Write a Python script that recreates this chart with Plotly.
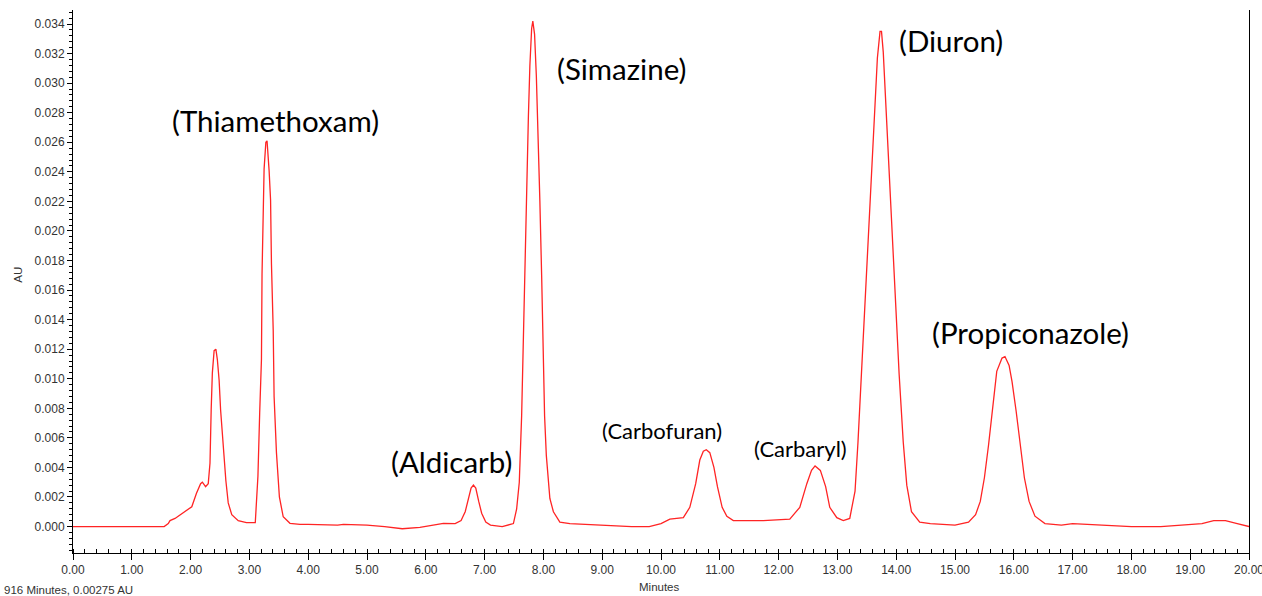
import plotly.graph_objects as go

# Retention time (minutes) and detector response (AU) of the chromatogram trace
minutes = [
    0.00, 1.00, 1.55, 1.62, 1.65, 1.735, 1.905, 1.96, 2.02, 2.10, 2.17, 2.20, 2.255, 2.30,
    2.33, 2.35, 2.37, 2.40, 2.43, 2.455, 2.485, 2.51, 2.555, 2.60, 2.64, 2.70, 2.81, 2.95,
    3.10, 3.12, 3.145, 3.175, 3.205, 3.215, 3.235, 3.25, 3.28, 3.30, 3.335, 3.36, 3.375,
    3.405, 3.42, 3.46, 3.51, 3.575, 3.69, 3.86, 4.00, 4.50, 4.60, 5.00, 5.30, 5.60, 5.90,
    6.10, 6.30, 6.50, 6.60, 6.67, 6.72, 6.77, 6.81, 6.85, 6.90, 6.95, 7.02, 7.10, 7.30,
    7.49, 7.545, 7.59, 7.63, 7.66, 7.69, 7.715, 7.745, 7.77, 7.80, 7.82, 7.85, 7.88, 7.91,
    7.94, 7.97, 7.99, 8.02, 8.05, 8.11, 8.17, 8.28, 8.45, 9.00, 9.50, 9.80, 10.00, 10.15,
    10.38, 10.49, 10.59, 10.66, 10.72, 10.77, 10.83, 10.90, 10.96, 11.04, 11.12, 11.23,
    11.74, 12.19, 12.36, 12.48, 12.56, 12.62, 12.71, 12.80, 12.87, 12.99, 13.10, 13.21,
    13.30, 13.35, 13.41, 13.47, 13.52, 13.58, 13.64, 13.68, 13.725, 13.75, 13.78, 13.827,
    13.88, 13.94, 13.995, 14.05, 14.12, 14.18, 14.26, 14.40, 14.58, 15.00, 15.23, 15.35,
    15.43, 15.50, 15.57, 15.64, 15.71, 15.80, 15.85, 15.92, 15.97, 16.04, 16.11, 16.18,
    16.26, 16.36, 16.53, 16.81, 17.00, 17.50, 18.00, 18.50, 18.90, 19.20, 19.40, 19.60,
    19.80, 20.00,
]
absorbance = [
    0.0000, 0.0000, 0.0000, 0.0002, 0.0004, 0.00055, 0.0010, 0.00118, 0.00134, 0.00225,
    0.0029, 0.0030, 0.0027, 0.0029, 0.0043, 0.0079, 0.0104, 0.0119, 0.0120, 0.0113, 0.0099,
    0.0079, 0.0054, 0.0031, 0.0016, 0.0008, 0.0004, 0.00026, 0.00026, 0.0016, 0.0034,
    0.0077, 0.0113, 0.0171, 0.0205, 0.0242, 0.0260, 0.0261, 0.0241, 0.0221, 0.0178, 0.0133,
    0.0088, 0.0050, 0.0020, 0.00066, 0.00022, 0.00015, 0.00015, 0.0001, 0.00015, 0.0001,
    0.0000, -0.00015, -0.00005, 0.0001, 0.00022, 0.0002, 0.0004, 0.0010, 0.0019, 0.0026,
    0.0028, 0.0026, 0.0017, 0.0009, 0.0003, 0.0001, 0.0000, 0.0002, 0.0012, 0.0030, 0.0075,
    0.0132, 0.0188, 0.0233, 0.0278, 0.0312, 0.0337, 0.0342, 0.0333, 0.0305, 0.0267, 0.0220,
    0.0170, 0.0121, 0.0075, 0.0048, 0.0019, 0.0010, 0.0003, 0.0002, 0.0001, 0.0000, 0.0000,
    0.0002, 0.0005, 0.0006, 0.0013, 0.0029, 0.0045, 0.0051, 0.0052, 0.0050, 0.0040, 0.0027,
    0.0013, 0.0007, 0.0004, 0.0004, 0.0005, 0.0013, 0.0029, 0.0038, 0.0041, 0.0038, 0.0027,
    0.0013, 0.0006, 0.0004, 0.00055, 0.0024, 0.0057, 0.0103, 0.0148, 0.0193, 0.0238, 0.0283,
    0.0317, 0.0335, 0.0335, 0.0321, 0.0283, 0.0238, 0.0193, 0.0148, 0.0103, 0.0057, 0.0028,
    0.0010, 0.0003, 0.0002, 0.0001, 0.0003, 0.0008, 0.0017, 0.0033, 0.0055, 0.0082, 0.0105,
    0.0114, 0.0115, 0.0109, 0.0098, 0.0078, 0.0055, 0.0033, 0.0017, 0.0007, 0.0002, 0.0001,
    0.0002, 0.0001, 0.0000, 0.0000, 0.0001, 0.0002, 0.0004, 0.0004, 0.0002, 0.0000,
]

# Compound labels and where each one sits (minutes, AU)
compounds = ["(Thiamethoxam)", "(Aldicarb)", "(Simazine)", "(Carbofuran)",
             "(Carbaryl)", "(Diuron)", "(Propiconazole)"]
label_minutes = [3.45, 6.43, 9.32, 10.02, 12.38, 14.93, 16.28]
label_au = [0.0275, 0.0044, 0.0310, 0.0065, 0.0053, 0.0329, 0.0131]
label_sizes = [29.5, 29.5, 29.5, 22, 22, 29.5, 29.5]

x_ticks = [i * 1.0 for i in range(21)]
x_tick_text = [f"{v:.2f}" for v in x_ticks]
y_ticks = [i * 0.002 for i in range(18)]
y_tick_text = [f"{v:.3f}" for v in y_ticks]

tick_font = dict(family="Liberation Sans, Arial, sans-serif", size=12, color="#333333")
small_font = dict(family="Liberation Sans, Arial, sans-serif", size=11.5, color="#333333")
label_font_family = "Lato, Open Sans, sans-serif"

fig = go.Figure()
fig.add_trace(go.Scatter(
    x=minutes, y=absorbance, mode="lines",
    line=dict(color="#ff2424", width=1.3),
    showlegend=False, hoverinfo="x+y",
))

for text, tx, ty, size in zip(compounds, label_minutes, label_au, label_sizes):
    fig.add_annotation(x=tx, y=ty, xref="x", yref="y", text=text, showarrow=False,
                       xanchor="center", yanchor="middle",
                       font=dict(family=label_font_family, size=size, color="black"))

# Axis titles and cursor readout
fig.add_annotation(x=-0.047, y=0.512, xref="paper", yref="paper", text="AU",
                   showarrow=False, textangle=-90, xanchor="center", yanchor="middle",
                   font=small_font)
fig.add_annotation(x=0.499, y=-0.0626, xref="paper", yref="paper", text="Minutes",
                   showarrow=False, xanchor="center", yanchor="middle", font=small_font)
fig.add_annotation(x=-0.0604, y=-0.068, xref="paper", yref="paper",
                   text="916 Minutes, 0.00275 AU", showarrow=False,
                   xanchor="left", yanchor="middle", font=small_font)

fig.update_xaxes(
    range=[0, 20], tickvals=x_ticks, ticktext=x_tick_text, tickfont=tick_font,
    ticklabeloverflow="allow", automargin=False,
    showgrid=False, zeroline=False, showline=True, linecolor="black", linewidth=1,
    ticks="outside", ticklen=6, tickcolor="black",
    minor=dict(dtick=0.2, ticks="inside", ticklen=4, tickcolor="black", showgrid=False),
)
fig.update_yaxes(
    range=[-0.00179, 0.03495], tickvals=y_ticks, ticktext=y_tick_text, tickfont=tick_font,
    automargin=False,
    showgrid=False, zeroline=False, showline=True, linecolor="black", linewidth=1,
    mirror=True, ticks="outside", ticklen=5, tickcolor="black",
    minor=dict(dtick=0.0004, ticks="outside", ticklen=3, tickcolor="black", showgrid=False),
)
fig.update_layout(
    width=1262, height=596,
    margin=dict(l=73, r=13, t=10, b=43, autoexpand=False),
    plot_bgcolor="white", paper_bgcolor="white",
)

fig.write_html("out.html")
